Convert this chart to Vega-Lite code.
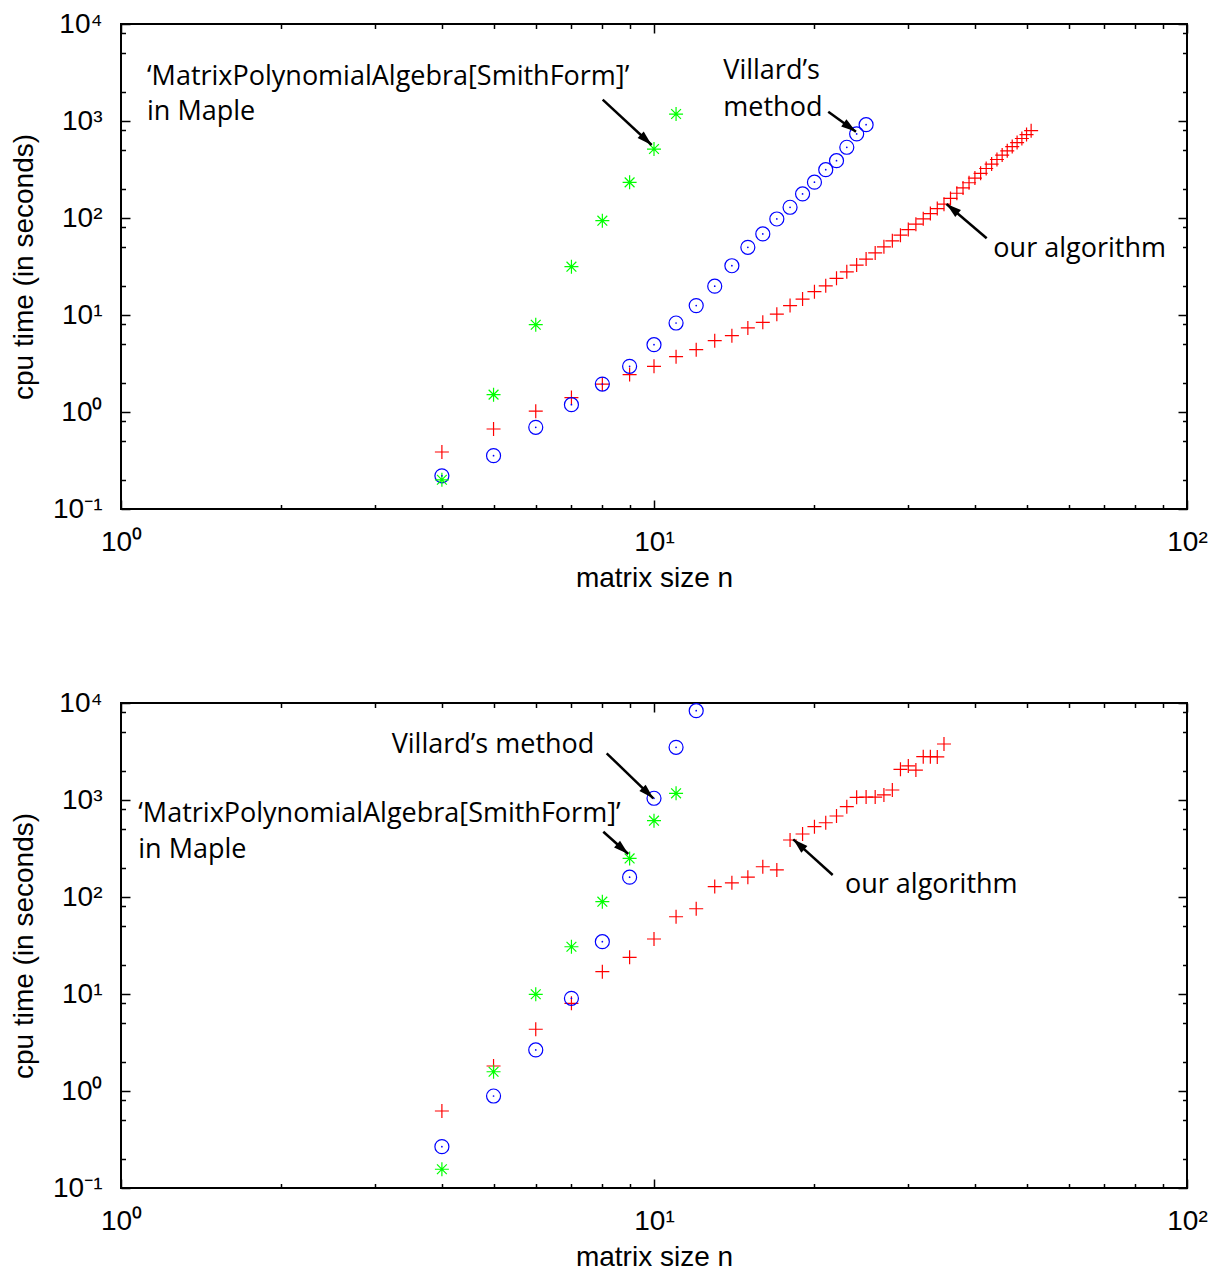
{
  "$schema": "https://vega.github.io/schema/vega-lite/v6.json",
  "background": "white",
  "padding": {"left": 9, "top": 9, "right": 0, "bottom": 0},
  "spacing": 95,
  "config": {
    "view": {"stroke": "black", "strokeWidth": 2},
    "font": "Liberation Sans"
  },
  "datasets": {
    "top": [
      {"s": "ours", "n": 4, "t": 0.387}, {"s": "ours", "n": 5, "t": 0.668}, {"s": "ours", "n": 6, "t": 1.02},
      {"s": "ours", "n": 7, "t": 1.41}, {"s": "ours", "n": 8, "t": 1.94}, {"s": "ours", "n": 9, "t": 2.43},
      {"s": "ours", "n": 10, "t": 2.96}, {"s": "ours", "n": 11, "t": 3.72}, {"s": "ours", "n": 12, "t": 4.39},
      {"s": "ours", "n": 13, "t": 5.43}, {"s": "ours", "n": 14, "t": 6.12}, {"s": "ours", "n": 15, "t": 7.35},
      {"s": "ours", "n": 16, "t": 8.41}, {"s": "ours", "n": 17, "t": 10.2}, {"s": "ours", "n": 18, "t": 12.5},
      {"s": "ours", "n": 19, "t": 14.6}, {"s": "ours", "n": 20, "t": 17.4}, {"s": "ours", "n": 21, "t": 20.0},
      {"s": "ours", "n": 22, "t": 23.9}, {"s": "ours", "n": 23, "t": 27.9}, {"s": "ours", "n": 24, "t": 32.7},
      {"s": "ours", "n": 25, "t": 37.7}, {"s": "ours", "n": 26, "t": 43.6}, {"s": "ours", "n": 27, "t": 50.5},
      {"s": "ours", "n": 28, "t": 58.1}, {"s": "ours", "n": 29, "t": 66.5}, {"s": "ours", "n": 30, "t": 75.9},
      {"s": "ours", "n": 31, "t": 86.3}, {"s": "ours", "n": 32, "t": 98}, {"s": "ours", "n": 33, "t": 111},
      {"s": "ours", "n": 34, "t": 125}, {"s": "ours", "n": 35, "t": 139}, {"s": "ours", "n": 36, "t": 159},
      {"s": "ours", "n": 37, "t": 180}, {"s": "ours", "n": 38, "t": 204}, {"s": "ours", "n": 39, "t": 231},
      {"s": "ours", "n": 40, "t": 258}, {"s": "ours", "n": 41, "t": 289}, {"s": "ours", "n": 42, "t": 324},
      {"s": "ours", "n": 43, "t": 360}, {"s": "ours", "n": 44, "t": 401}, {"s": "ours", "n": 45, "t": 445},
      {"s": "ours", "n": 46, "t": 493}, {"s": "ours", "n": 47, "t": 545}, {"s": "ours", "n": 48, "t": 599},
      {"s": "ours", "n": 49, "t": 660}, {"s": "ours", "n": 50, "t": 724}, {"s": "ours", "n": 51, "t": 794},
      {"s": "villard", "n": 4, "t": 0.220}, {"s": "villard", "n": 5, "t": 0.355}, {"s": "villard", "n": 6, "t": 0.695},
      {"s": "villard", "n": 7, "t": 1.19}, {"s": "villard", "n": 8, "t": 1.94}, {"s": "villard", "n": 9, "t": 2.96},
      {"s": "villard", "n": 10, "t": 4.94}, {"s": "villard", "n": 11, "t": 8.27}, {"s": "villard", "n": 12, "t": 12.5},
      {"s": "villard", "n": 13, "t": 19.8}, {"s": "villard", "n": 14, "t": 32.2}, {"s": "villard", "n": 15, "t": 49.9},
      {"s": "villard", "n": 16, "t": 68.5}, {"s": "villard", "n": 17, "t": 97.7}, {"s": "villard", "n": 18, "t": 129},
      {"s": "villard", "n": 19, "t": 177}, {"s": "villard", "n": 20, "t": 234}, {"s": "villard", "n": 21, "t": 315},
      {"s": "villard", "n": 22, "t": 390}, {"s": "villard", "n": 23, "t": 536}, {"s": "villard", "n": 24, "t": 735},
      {"s": "villard", "n": 25, "t": 916},
      {"s": "maple", "n": 4, "t": 0.2}, {"s": "maple", "n": 5, "t": 1.51}, {"s": "maple", "n": 6, "t": 7.94},
      {"s": "maple", "n": 7, "t": 31.5}, {"s": "maple", "n": 8, "t": 93.8}, {"s": "maple", "n": 9, "t": 233},
      {"s": "maple", "n": 10, "t": 514}, {"s": "maple", "n": 11, "t": 1180}
    ],
    "bottom": [
      {"s": "ours", "n": 4, "t": 0.622}, {"s": "ours", "n": 5, "t": 1.81}, {"s": "ours", "n": 6, "t": 4.33},
      {"s": "ours", "n": 7, "t": 8.02}, {"s": "ours", "n": 8, "t": 17.0}, {"s": "ours", "n": 9, "t": 23.9},
      {"s": "ours", "n": 10, "t": 36.9}, {"s": "ours", "n": 11, "t": 62.6}, {"s": "ours", "n": 12, "t": 75.7},
      {"s": "ours", "n": 13, "t": 128}, {"s": "ours", "n": 14, "t": 140}, {"s": "ours", "n": 15, "t": 160},
      {"s": "ours", "n": 16, "t": 205}, {"s": "ours", "n": 17, "t": 190}, {"s": "ours", "n": 18, "t": 387},
      {"s": "ours", "n": 19, "t": 446}, {"s": "ours", "n": 20, "t": 531}, {"s": "ours", "n": 21, "t": 583},
      {"s": "ours", "n": 22, "t": 684}, {"s": "ours", "n": 23, "t": 853}, {"s": "ours", "n": 24, "t": 1066},
      {"s": "ours", "n": 25, "t": 1073}, {"s": "ours", "n": 26, "t": 1073}, {"s": "ours", "n": 27, "t": 1127},
      {"s": "ours", "n": 28, "t": 1268}, {"s": "ours", "n": 29, "t": 2070}, {"s": "ours", "n": 30, "t": 2244},
      {"s": "ours", "n": 31, "t": 2037}, {"s": "ours", "n": 32, "t": 2795}, {"s": "ours", "n": 33, "t": 2795},
      {"s": "ours", "n": 34, "t": 2780}, {"s": "ours", "n": 35, "t": 3780},
      {"s": "villard", "n": 4, "t": 0.267}, {"s": "villard", "n": 5, "t": 0.888}, {"s": "villard", "n": 6, "t": 2.65},
      {"s": "villard", "n": 7, "t": 9.03}, {"s": "villard", "n": 8, "t": 34.6}, {"s": "villard", "n": 9, "t": 160},
      {"s": "villard", "n": 10, "t": 1042}, {"s": "villard", "n": 11, "t": 3492}, {"s": "villard", "n": 12, "t": 8330},
      {"s": "maple", "n": 4, "t": 0.156}, {"s": "maple", "n": 5, "t": 1.58}, {"s": "maple", "n": 6, "t": 9.93},
      {"s": "maple", "n": 7, "t": 30.7}, {"s": "maple", "n": 8, "t": 89.5}, {"s": "maple", "n": 9, "t": 250},
      {"s": "maple", "n": 10, "t": 612}, {"s": "maple", "n": 11, "t": 1172}
    ],
    "top_text": [
      {"n": 1.119, "t": 2350, "label": "‘MatrixPolynomialAlgebra[SmithForm]’"},
      {"n": 1.119, "t": 1031, "label": "in Maple"},
      {"n": 13.49, "t": 2710, "label": "Villard’s"},
      {"n": 13.49, "t": 1126, "label": "method"},
      {"n": 43.32, "t": 39.3, "label": "our algorithm"}
    ],
    "top_arrows": [
      {"id": "maple", "n": 8.012, "t": 1658, "n2": 9.90, "t2": 565.7},
      {"id": "villard", "n": 21.23, "t": 1247, "n2": 23.93, "t2": 775.8},
      {"id": "ours", "n": 42.09, "t": 61.76, "n2": 35.38, "t2": 139.4}
    ],
    "bottom_text": [
      {"n": 1.0776, "t": 597.5, "label": "‘MatrixPolynomialAlgebra[SmithForm]’"},
      {"n": 1.0776, "t": 250.6, "label": "in Maple"},
      {"n": 3.220, "t": 3074, "label": "Villard’s method"},
      {"n": 22.82, "t": 109.2, "label": "our algorithm"}
    ],
    "bottom_arrows": [
      {"id": "villard", "n": 8.152, "t": 3030, "n2": 9.970, "t2": 1041},
      {"id": "maple", "n": 8.033, "t": 471.2, "n2": 8.948, "t2": 277.5},
      {"id": "ours", "n": 21.64, "t": 168.6, "n2": 18.25, "t2": 393.3}
    ]
  },
  "vconcat": [
    {
      "width": 1066,
      "height": 485,
      "resolve": {"axis": {"x": "independent", "y": "independent"}},
      "layer": [
        {
          "data": {"name": "top"},
          "mark": {"type": "point", "filled": false, "strokeWidth": 1.2, "opacity": 1},
          "encoding": {
            "x": {"field": "n", "type": "quantitative", "scale": {"type": "log", "domain": [1, 100], "nice": false},
              "axis": {"orient": "bottom", "values": [1, 10, 100], "labelExpr": "datum.value < 5 ? '10⁰' : datum.value < 50 ? '10¹' : '10²'", "tickSize": -9, "tickWidth": 1.5, "tickColor": "black", "domain": false, "grid": false, "labelFont": "Liberation Sans", "labelFontSize": 28, "labelColor": "black", "labelPadding": 28, "labelFlush": false, "labelOverlap": false, "title": "matrix size n", "titleFont": "Liberation Sans", "titleFontSize": 28, "titleFontWeight": "normal", "titleColor": "black", "titlePadding": 8}},
            "y": {"field": "t", "type": "quantitative", "scale": {"type": "log", "domain": [0.1, 10000], "nice": false},
              "axis": {"orient": "left", "values": [0.1, 1, 10, 100, 1000, 10000], "labelExpr": "datum.value < 0.5 ? '10⁻¹' : datum.value < 5 ? '10⁰' : datum.value < 50 ? '10¹' : datum.value < 500 ? '10²' : datum.value < 5000 ? '10³' : '10⁴'", "tickSize": -9, "tickWidth": 1.5, "tickColor": "black", "domain": false, "grid": false, "labelFont": "Liberation Sans", "labelFontSize": 28, "labelColor": "black", "labelPadding": 28, "labelFlush": false, "labelOverlap": false, "title": "cpu time (in seconds)", "titleFont": "Liberation Sans", "titleFontSize": 28, "titleFontWeight": "normal", "titleColor": "black", "titlePadding": 14}},
            "shape": {"field": "s", "type": "nominal", "legend": null, "scale": {"domain": ["ours", "villard", "maple"], "range": ["M-1,0H1M0,-1V1", "circle", "M-1,0H1M0,-1V1M-0.7,-0.7L0.7,0.7M-0.7,0.7L0.7,-0.7"]}},
            "color": {"field": "s", "type": "nominal", "legend": null, "scale": {"domain": ["ours", "villard", "maple"], "range": ["#ff0000", "#0000ff", "#00ff00"]}},
            "size": {"value": 196}
          }
        },
        {
          "data": {"name": "top"},
          "transform": [{"filter": "datum.s == 'villard'"}],
          "mark": {"type": "point", "filled": true, "color": "#0000ff", "opacity": 1, "size": 3},
          "encoding": {
            "x": {"field": "n", "type": "quantitative", "scale": {"type": "log", "domain": [1, 100], "nice": false},
              "axis": {"orient": "bottom", "values": [2, 3, 4, 5, 6, 7, 8, 9, 20, 30, 40, 50, 60, 70, 80, 90], "tickSize": -4.5, "tickWidth": 1.5, "tickColor": "black", "domain": false, "grid": false, "labels": false, "title": null}},
            "y": {"field": "t", "type": "quantitative", "scale": {"type": "log", "domain": [0.1, 10000], "nice": false},
              "axis": {"orient": "left", "values": [0.2, 0.5, 0.8, 2, 5, 8, 20, 50, 80, 200, 500, 800, 2000, 5000, 8000], "tickSize": -4.5, "tickWidth": 1.5, "tickColor": "black", "domain": false, "grid": false, "labels": false, "title": null}}
          }
        },
        {
          "data": {"name": "top_text"},
          "mark": {"type": "text", "align": "left", "baseline": "alphabetic", "font": "Open Sans", "fontSize": 27, "color": "black"},
          "encoding": {
            "x": {"field": "n", "type": "quantitative", "scale": {"type": "log", "domain": [1, 100], "nice": false},
              "axis": {"orient": "top", "values": [1, 10, 100], "tickSize": -9, "tickWidth": 1.5, "tickColor": "black", "domain": false, "grid": false, "labels": false, "title": null}},
            "y": {"field": "t", "type": "quantitative", "scale": {"type": "log", "domain": [0.1, 10000], "nice": false},
              "axis": {"orient": "right", "values": [0.1, 1, 10, 100, 1000, 10000], "tickSize": -9, "tickWidth": 1.5, "tickColor": "black", "domain": false, "grid": false, "labels": false, "title": null}},
            "text": {"field": "label"}
          }
        },
        {
          "data": {"name": "top_arrows"},
          "mark": {"type": "rule", "color": "black", "strokeWidth": 2.5},
          "encoding": {
            "x": {"field": "n", "type": "quantitative", "scale": {"type": "log", "domain": [1, 100], "nice": false},
              "axis": {"orient": "top", "values": [2, 3, 4, 5, 6, 7, 8, 9, 20, 30, 40, 50, 60, 70, 80, 90], "tickSize": -4.5, "tickWidth": 1.5, "tickColor": "black", "domain": false, "grid": false, "labels": false, "title": null}},
            "y": {"field": "t", "type": "quantitative", "scale": {"type": "log", "domain": [0.1, 10000], "nice": false},
              "axis": {"orient": "right", "values": [0.2, 0.5, 0.8, 2, 5, 8, 20, 50, 80, 200, 500, 800, 2000, 5000, 8000], "tickSize": -4.5, "tickWidth": 1.5, "tickColor": "black", "domain": false, "grid": false, "labels": false, "title": null}},
            "x2": {"field": "n2"},
            "y2": {"field": "t2"}
          }
        },
        {
          "data": {"name": "top_arrows"},
          "transform": [{"filter": "datum.id == 'maple'"}],
          "mark": {"type": "point", "shape": "M0,0L-1,-0.3L-1,0.3Z", "filled": true, "color": "black", "opacity": 1, "size": 900, "angle": 42.8},
          "encoding": {
            "x": {"field": "n2", "type": "quantitative", "scale": {"type": "log", "domain": [1, 100], "nice": false}, "axis": null},
            "y": {"field": "t2", "type": "quantitative", "scale": {"type": "log", "domain": [0.1, 10000], "nice": false}, "axis": null}
          }
        },
        {
          "data": {"name": "top_arrows"},
          "transform": [{"filter": "datum.id == 'villard'"}],
          "mark": {"type": "point", "shape": "M0,0L-1,-0.3L-1,0.3Z", "filled": true, "color": "black", "opacity": 1, "size": 900, "angle": 35.8},
          "encoding": {
            "x": {"field": "n2", "type": "quantitative", "scale": {"type": "log", "domain": [1, 100], "nice": false}, "axis": null},
            "y": {"field": "t2", "type": "quantitative", "scale": {"type": "log", "domain": [0.1, 10000], "nice": false}, "axis": null}
          }
        },
        {
          "data": {"name": "top_arrows"},
          "transform": [{"filter": "datum.id == 'ours'"}],
          "mark": {"type": "point", "shape": "M0,0L-1,-0.3L-1,0.3Z", "filled": true, "color": "black", "opacity": 1, "size": 900, "angle": 219.2},
          "encoding": {
            "x": {"field": "n2", "type": "quantitative", "scale": {"type": "log", "domain": [1, 100], "nice": false}, "axis": null},
            "y": {"field": "t2", "type": "quantitative", "scale": {"type": "log", "domain": [0.1, 10000], "nice": false}, "axis": null}
          }
        }
      ]
    },
    {
      "width": 1066,
      "height": 485,
      "resolve": {"axis": {"x": "independent", "y": "independent"}},
      "layer": [
        {
          "data": {"name": "bottom"},
          "mark": {"type": "point", "filled": false, "strokeWidth": 1.2, "opacity": 1},
          "encoding": {
            "x": {"field": "n", "type": "quantitative", "scale": {"type": "log", "domain": [1, 100], "nice": false},
              "axis": {"orient": "bottom", "values": [1, 10, 100], "labelExpr": "datum.value < 5 ? '10⁰' : datum.value < 50 ? '10¹' : '10²'", "tickSize": -9, "tickWidth": 1.5, "tickColor": "black", "domain": false, "grid": false, "labelFont": "Liberation Sans", "labelFontSize": 28, "labelColor": "black", "labelPadding": 28, "labelFlush": false, "labelOverlap": false, "title": "matrix size n", "titleFont": "Liberation Sans", "titleFontSize": 28, "titleFontWeight": "normal", "titleColor": "black", "titlePadding": 8}},
            "y": {"field": "t", "type": "quantitative", "scale": {"type": "log", "domain": [0.1, 10000], "nice": false},
              "axis": {"orient": "left", "values": [0.1, 1, 10, 100, 1000, 10000], "labelExpr": "datum.value < 0.5 ? '10⁻¹' : datum.value < 5 ? '10⁰' : datum.value < 50 ? '10¹' : datum.value < 500 ? '10²' : datum.value < 5000 ? '10³' : '10⁴'", "tickSize": -9, "tickWidth": 1.5, "tickColor": "black", "domain": false, "grid": false, "labelFont": "Liberation Sans", "labelFontSize": 28, "labelColor": "black", "labelPadding": 28, "labelFlush": false, "labelOverlap": false, "title": "cpu time (in seconds)", "titleFont": "Liberation Sans", "titleFontSize": 28, "titleFontWeight": "normal", "titleColor": "black", "titlePadding": 14}},
            "shape": {"field": "s", "type": "nominal", "legend": null, "scale": {"domain": ["ours", "villard", "maple"], "range": ["M-1,0H1M0,-1V1", "circle", "M-1,0H1M0,-1V1M-0.7,-0.7L0.7,0.7M-0.7,0.7L0.7,-0.7"]}},
            "color": {"field": "s", "type": "nominal", "legend": null, "scale": {"domain": ["ours", "villard", "maple"], "range": ["#ff0000", "#0000ff", "#00ff00"]}},
            "size": {"value": 196}
          }
        },
        {
          "data": {"name": "bottom"},
          "transform": [{"filter": "datum.s == 'villard'"}],
          "mark": {"type": "point", "filled": true, "color": "#0000ff", "opacity": 1, "size": 3},
          "encoding": {
            "x": {"field": "n", "type": "quantitative", "scale": {"type": "log", "domain": [1, 100], "nice": false},
              "axis": {"orient": "bottom", "values": [2, 3, 4, 5, 6, 7, 8, 9, 20, 30, 40, 50, 60, 70, 80, 90], "tickSize": -4.5, "tickWidth": 1.5, "tickColor": "black", "domain": false, "grid": false, "labels": false, "title": null}},
            "y": {"field": "t", "type": "quantitative", "scale": {"type": "log", "domain": [0.1, 10000], "nice": false},
              "axis": {"orient": "left", "values": [0.2, 0.5, 0.8, 2, 5, 8, 20, 50, 80, 200, 500, 800, 2000, 5000, 8000], "tickSize": -4.5, "tickWidth": 1.5, "tickColor": "black", "domain": false, "grid": false, "labels": false, "title": null}}
          }
        },
        {
          "data": {"name": "bottom_text"},
          "mark": {"type": "text", "align": "left", "baseline": "alphabetic", "font": "Open Sans", "fontSize": 27, "color": "black"},
          "encoding": {
            "x": {"field": "n", "type": "quantitative", "scale": {"type": "log", "domain": [1, 100], "nice": false},
              "axis": {"orient": "top", "values": [1, 10, 100], "tickSize": -9, "tickWidth": 1.5, "tickColor": "black", "domain": false, "grid": false, "labels": false, "title": null}},
            "y": {"field": "t", "type": "quantitative", "scale": {"type": "log", "domain": [0.1, 10000], "nice": false},
              "axis": {"orient": "right", "values": [0.1, 1, 10, 100, 1000, 10000], "tickSize": -9, "tickWidth": 1.5, "tickColor": "black", "domain": false, "grid": false, "labels": false, "title": null}},
            "text": {"field": "label"}
          }
        },
        {
          "data": {"name": "bottom_arrows"},
          "mark": {"type": "rule", "color": "black", "strokeWidth": 2.5},
          "encoding": {
            "x": {"field": "n", "type": "quantitative", "scale": {"type": "log", "domain": [1, 100], "nice": false},
              "axis": {"orient": "top", "values": [2, 3, 4, 5, 6, 7, 8, 9, 20, 30, 40, 50, 60, 70, 80, 90], "tickSize": -4.5, "tickWidth": 1.5, "tickColor": "black", "domain": false, "grid": false, "labels": false, "title": null}},
            "y": {"field": "t", "type": "quantitative", "scale": {"type": "log", "domain": [0.1, 10000], "nice": false},
              "axis": {"orient": "right", "values": [0.2, 0.5, 0.8, 2, 5, 8, 20, 50, 80, 200, 500, 800, 2000, 5000, 8000], "tickSize": -4.5, "tickWidth": 1.5, "tickColor": "black", "domain": false, "grid": false, "labels": false, "title": null}},
            "x2": {"field": "n2"},
            "y2": {"field": "t2"}
          }
        },
        {
          "data": {"name": "bottom_arrows"},
          "transform": [{"filter": "datum.id == 'villard'"}],
          "mark": {"type": "point", "shape": "M0,0L-1,-0.3L-1,0.3Z", "filled": true, "color": "black", "opacity": 1, "size": 900, "angle": 44},
          "encoding": {
            "x": {"field": "n2", "type": "quantitative", "scale": {"type": "log", "domain": [1, 100], "nice": false}, "axis": null},
            "y": {"field": "t2", "type": "quantitative", "scale": {"type": "log", "domain": [0.1, 10000], "nice": false}, "axis": null}
          }
        },
        {
          "data": {"name": "bottom_arrows"},
          "transform": [{"filter": "datum.id == 'maple'"}],
          "mark": {"type": "point", "shape": "M0,0L-1,-0.3L-1,0.3Z", "filled": true, "color": "black", "opacity": 1, "size": 900, "angle": 41.7},
          "encoding": {
            "x": {"field": "n2", "type": "quantitative", "scale": {"type": "log", "domain": [1, 100], "nice": false}, "axis": null},
            "y": {"field": "t2", "type": "quantitative", "scale": {"type": "log", "domain": [0.1, 10000], "nice": false}, "axis": null}
          }
        },
        {
          "data": {"name": "bottom_arrows"},
          "transform": [{"filter": "datum.id == 'ours'"}],
          "mark": {"type": "point", "shape": "M0,0L-1,-0.3L-1,0.3Z", "filled": true, "color": "black", "opacity": 1, "size": 900, "angle": 222.2},
          "encoding": {
            "x": {"field": "n2", "type": "quantitative", "scale": {"type": "log", "domain": [1, 100], "nice": false}, "axis": null},
            "y": {"field": "t2", "type": "quantitative", "scale": {"type": "log", "domain": [0.1, 10000], "nice": false}, "axis": null}
          }
        }
      ]
    }
  ]
}
